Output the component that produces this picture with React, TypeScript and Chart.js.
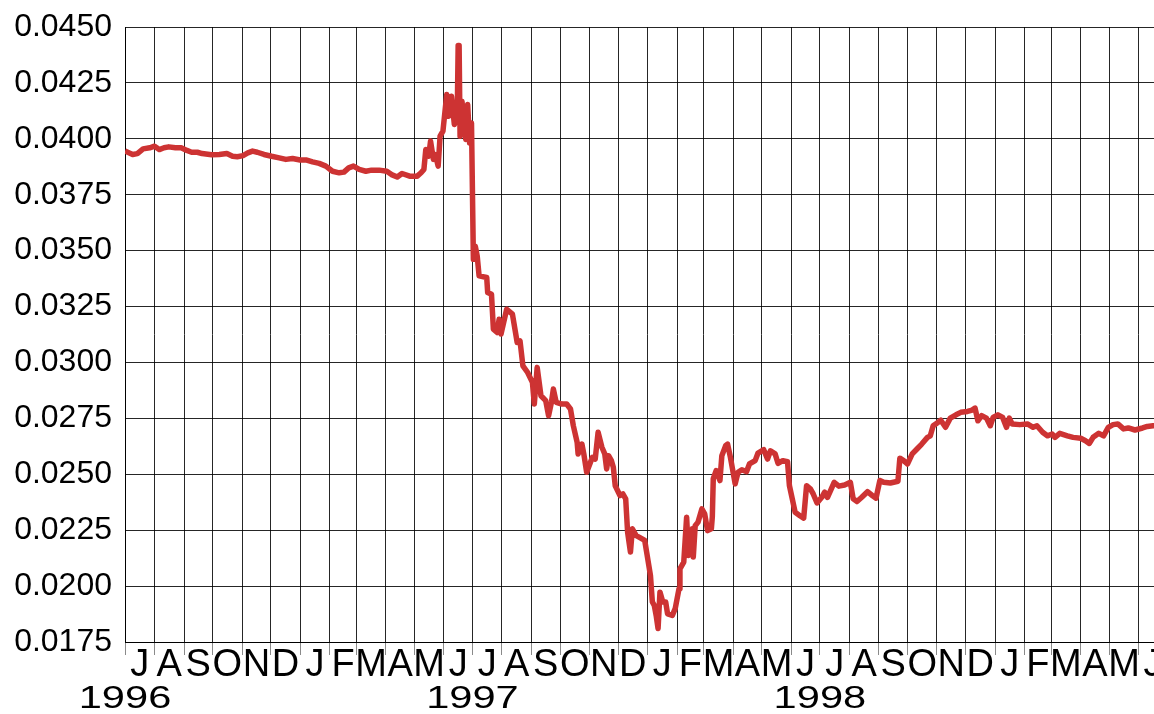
import React, { useEffect, useRef } from "react";
import { Chart, registerables } from "chart.js";

Chart.register(...registerables);

// Daily observations, sampled where the series turns; one pair of arrays per calendar year.
const dates1996 = [
  "1996-07-01", "1996-07-09", "1996-07-14", "1996-07-20", "1996-07-27", "1996-08-01", "1996-08-06",
  "1996-08-11", "1996-08-16", "1996-08-23", "1996-08-29", "1996-09-04", "1996-09-09", "1996-09-15",
  "1996-09-20", "1996-09-30", "1996-10-08", "1996-10-16", "1996-10-22", "1996-10-27", "1996-11-02",
  "1996-11-07", "1996-11-12", "1996-11-17", "1996-11-24", "1996-12-02", "1996-12-10", "1996-12-17",
  "1996-12-24",
];
const rates1996 = [
  0.03945, 0.0393, 0.03934, 0.03955, 0.0396, 0.03967, 0.03952,
  0.0396, 0.03964, 0.0396, 0.0396, 0.03948, 0.0394, 0.0394,
  0.03934, 0.03929, 0.0393, 0.03934, 0.03922, 0.0392, 0.03925,
  0.03937, 0.03945, 0.0394, 0.0393, 0.03922, 0.03915, 0.03908,
  0.03912,
];

const dates1997 = [
  "1997-01-01", "1997-01-08", "1997-01-14", "1997-01-21", "1997-01-28", "1997-02-04", "1997-02-11",
  "1997-02-16", "1997-02-21", "1997-02-26", "1997-03-04", "1997-03-11", "1997-03-17", "1997-03-25",
  "1997-04-02", "1997-04-07", "1997-04-13", "1997-04-18", "1997-04-26", "1997-05-04", "1997-05-08",
  "1997-05-11", "1997-05-13", "1997-05-16", "1997-05-18", "1997-05-21", "1997-05-23", "1997-05-26",
  "1997-05-28", "1997-05-31", "1997-06-04", "1997-06-06", "1997-06-09", "1997-06-12", "1997-06-15",
  "1997-06-16", "1997-06-17", "1997-06-18", "1997-06-20", "1997-06-24", "1997-06-26", "1997-06-28",
  "1997-06-30", "1997-07-02", "1997-07-04", "1997-07-06", "1997-07-08", "1997-07-16", "1997-07-17",
  "1997-07-21", "1997-07-23", "1997-07-27", "1997-07-29", "1997-07-31", "1997-08-06", "1997-08-12",
  "1997-08-17", "1997-08-20", "1997-08-23", "1997-08-28", "1997-09-02", "1997-09-04", "1997-09-07",
  "1997-09-11", "1997-09-16", "1997-09-19", "1997-09-22", "1997-09-24", "1997-09-27", "1997-10-03",
  "1997-10-08", "1997-10-12", "1997-10-15", "1997-10-19", "1997-10-20", "1997-10-24", "1997-10-26",
  "1997-10-29", "1997-11-04", "1997-11-07", "1997-11-10", "1997-11-14", "1997-11-17", "1997-11-19",
  "1997-11-21", "1997-11-24", "1997-11-26", "1997-11-28", "1997-12-03", "1997-12-06", "1997-12-09",
  "1997-12-11", "1997-12-14", "1997-12-16", "1997-12-20", "1997-12-23", "1997-12-29", "1997-12-31",
];
const rates1997 = [
  0.03905, 0.03905, 0.03897, 0.0389, 0.03878, 0.03855, 0.03848,
  0.03851, 0.0387, 0.03878, 0.03863, 0.03855, 0.0386, 0.0386,
  0.03855, 0.0384, 0.03829, 0.03845, 0.03833, 0.03833, 0.03848,
  0.03863, 0.03952, 0.03922, 0.0399, 0.03908, 0.0393, 0.03878,
  0.04012, 0.04034, 0.04198, 0.04101, 0.0419, 0.04064, 0.041,
  0.04417, 0.04417, 0.04012, 0.04168, 0.03997, 0.04153, 0.03982,
  0.04071, 0.03461, 0.0352, 0.03476, 0.03387, 0.0338, 0.03313,
  0.03305, 0.03149, 0.03134, 0.03193, 0.03127, 0.03238, 0.03216,
  0.03089, 0.03096, 0.02985, 0.02955, 0.02911, 0.02814, 0.02978,
  0.02851, 0.02829, 0.02762, 0.02822, 0.02881, 0.02822, 0.02814,
  0.02814, 0.02792, 0.02717, 0.02643, 0.02591, 0.02635, 0.02591,
  0.02509, 0.02576, 0.02568, 0.02688, 0.02621, 0.02591, 0.02524,
  0.02583, 0.02561, 0.02531, 0.02449, 0.02405, 0.02412, 0.0239,
  0.02241, 0.02152, 0.02256, 0.02226, 0.02219, 0.02204, 0.02152,
];

const dates1998 = [
  "1998-01-04", "1998-01-06", "1998-01-08", "1998-01-10", "1998-01-12", "1998-01-14", "1998-01-17",
  "1998-01-20", "1998-01-22", "1998-01-27", "1998-01-30", "1998-02-03", "1998-02-04", "1998-02-08",
  "1998-02-11", "1998-02-13", "1998-02-17", "1998-02-18", "1998-02-20", "1998-02-23", "1998-02-27",
  "1998-03-02", "1998-03-05", "1998-03-09", "1998-03-10", "1998-03-11", "1998-03-14", "1998-03-18",
  "1998-03-20", "1998-03-24", "1998-03-26", "1998-03-29", "1998-04-03", "1998-04-06", "1998-04-10",
  "1998-04-15", "1998-04-18", "1998-04-24", "1998-04-27", "1998-05-03", "1998-05-07", "1998-05-10",
  "1998-05-15", "1998-05-18", "1998-05-23", "1998-05-28", "1998-05-30", "1998-06-02", "1998-06-05",
  "1998-06-10", "1998-06-14", "1998-06-17", "1998-06-21", "1998-06-24", "1998-06-28", "1998-07-03",
  "1998-07-06", "1998-07-09", "1998-07-13", "1998-07-16", "1998-07-21", "1998-07-27", "1998-08-02",
  "1998-08-05", "1998-08-09", "1998-08-14", "1998-08-20", "1998-08-25", "1998-08-29", "1998-09-02",
  "1998-09-06", "1998-09-13", "1998-09-21", "1998-09-23", "1998-09-27", "1998-10-01", "1998-10-06",
  "1998-10-11", "1998-10-16", "1998-10-22", "1998-10-25", "1998-10-28", "1998-11-02", "1998-11-05",
  "1998-11-10", "1998-11-15", "1998-11-21", "1998-11-26", "1998-12-03", "1998-12-08", "1998-12-11",
  "1998-12-14", "1998-12-18", "1998-12-23", "1998-12-27", "1998-12-30",
];
const rates1998 = [
  0.02048, 0.01929, 0.01914, 0.01869, 0.0181, 0.01973, 0.01929,
  0.01929, 0.01876, 0.01869, 0.01899, 0.01988, 0.02077, 0.02107,
  0.02308, 0.02137, 0.02256, 0.0213, 0.0227, 0.02286, 0.02345,
  0.02323, 0.02248, 0.02256, 0.0231, 0.0248, 0.02516, 0.02472,
  0.02583, 0.02628, 0.02635, 0.02576, 0.02457, 0.02509, 0.0252,
  0.02512, 0.02546, 0.02561, 0.02595, 0.0261, 0.02568, 0.02605,
  0.02591, 0.02549, 0.02561, 0.02556, 0.02449, 0.0239, 0.0233,
  0.02315, 0.02304, 0.02449, 0.02435, 0.02412, 0.02372, 0.02397,
  0.0242, 0.02397, 0.02435, 0.02464, 0.02447, 0.02452, 0.02464,
  0.0239, 0.02378, 0.02397, 0.02422, 0.02405, 0.02393, 0.02472,
  0.02464, 0.02461, 0.02469, 0.02572, 0.02561, 0.02546, 0.02591,
  0.02613, 0.02635, 0.02665, 0.02672, 0.02717, 0.02732, 0.02742,
  0.0271, 0.02751, 0.02766, 0.02777, 0.02781, 0.02787, 0.02796,
  0.02739, 0.02762, 0.02751, 0.02717, 0.02754,
];

const dates1999 = [
  "1999-01-04", "1999-01-09", "1999-01-13", "1999-01-16", "1999-01-19", "1999-01-27", "1999-02-04",
  "1999-02-10", "1999-02-14", "1999-02-20", "1999-02-25", "1999-03-02", "1999-03-05", "1999-03-10",
  "1999-03-18", "1999-03-24", "1999-04-01", "1999-04-06", "1999-04-10", "1999-04-14", "1999-04-20",
  "1999-04-25", "1999-04-30", "1999-05-05", "1999-05-10", "1999-05-16", "1999-05-21", "1999-05-28",
  "1999-06-05", "1999-06-10", "1999-06-16", "1999-06-17",
];
const rates1999 = [
  0.02766, 0.02754, 0.0271, 0.02751, 0.02725, 0.02722, 0.02725,
  0.0271, 0.02717, 0.02688, 0.02672, 0.0268, 0.02665, 0.02683,
  0.02672, 0.02665, 0.02661, 0.0265, 0.02638, 0.02665, 0.02683,
  0.02672, 0.0271, 0.02722, 0.02725, 0.02703, 0.02707, 0.02698,
  0.02707, 0.02714, 0.02717, 0.02717,
];

// Axis ranges and tick labels
const X_START = "1996-07-01";
const X_END = "1999-06-17";
const Y_MIN = 0.0175;
const Y_MAX = 0.045;
const Y_STEP = 0.0025;
const MONTH_INITIALS = ["J", "F", "M", "A", "M", "J", "J", "A", "S", "O", "N", "D"];
const YEAR_LABELS = ["1996", "1997", "1998", "1999"];

const FONT_FAMILY = '"Liberation Sans", Arial, Helvetica, sans-serif';
const LINE_COLOR = "#cd3333";

const toTime = (s: string): number => {
  const [y, m, d] = s.split("-").map(Number);
  return Date.UTC(y, m - 1, d);
};

const allDates = [...dates1996, ...dates1997, ...dates1998, ...dates1999];
const allRates = [...rates1996, ...rates1997, ...rates1998, ...rates1999];

// Month boundaries from the first month of the range up to (and one past) the end.
function monthStarts(minT: number, maxT: number): number[] {
  const out: number[] = [];
  const d0 = new Date(minT);
  let y = d0.getUTCFullYear();
  let m = d0.getUTCMonth();
  for (;;) {
    const t = Date.UTC(y, m, 1);
    out.push(t);
    if (t > maxT) break;
    m += 1;
    if (m > 11) {
      m = 0;
      y += 1;
    }
  }
  return out;
}

// Draws the month initials between the month gridlines and the year under 1 July.
const calendarLabels = {
  id: "calendarLabels",
  afterDraw(chart: any) {
    const xs = chart.scales.x;
    const ctx: CanvasRenderingContext2D = chart.ctx;
    const starts = monthStarts(xs.min, xs.max);
    ctx.save();
    ctx.fillStyle = "#000";
    ctx.textAlign = "center";
    ctx.textBaseline = "alphabetic";
    ctx.font = `38px ${FONT_FAMILY}`;
    const base = chart.chartArea.bottom;
    for (let i = 0; i < starts.length - 1; i++) {
      if (starts[i] > xs.max) break;
      const a = xs.getPixelForValue(starts[i]);
      const b = xs.getPixelForValue(starts[i + 1]);
      const month = new Date(starts[i]).getUTCMonth();
      ctx.fillText(MONTH_INITIALS[month], (a + b) / 2, base + 34);
    }
    ctx.font = `32px ${FONT_FAMILY}`;
    for (const yl of YEAR_LABELS) {
      const t = Date.UTC(Number(yl), 6, 1);
      if (t < xs.min || t > xs.max) continue;
      const px = xs.getPixelForValue(t);
      ctx.save();
      ctx.translate(px, base + 66);
      ctx.scale(1.3, 1);
      ctx.fillText(yl, 0, 0);
      ctx.restore();
    }
    ctx.restore();
  },
};

export default function App() {
  const canvasRef = useRef<HTMLCanvasElement | null>(null);

  useEffect(() => {
    if (!canvasRef.current) return;
    const points = allDates.map((d, i) => ({ x: toTime(d), y: allRates[i] }));
    const chart = new Chart(canvasRef.current, {
      type: "line",
      data: {
        datasets: [
          {
            data: points,
            borderColor: LINE_COLOR,
            borderWidth: 5.5,
            borderJoinStyle: "round",
            borderCapStyle: "butt",
            pointRadius: 0,
            tension: 0,
            fill: false,
          },
        ],
      },
      options: {
        animation: false,
        responsive: false,
        maintainAspectRatio: false,
        layout: { padding: { top: 27, right: 0, left: 0, bottom: 0 } },
        plugins: {
          legend: { display: false },
          tooltip: { enabled: false },
        },
        scales: {
          x: {
            type: "linear",
            min: toTime(X_START),
            max: toTime(X_END),
            afterBuildTicks: (scale: any) => {
              scale.ticks = monthStarts(scale.min, scale.max)
                .filter((t) => t <= scale.max)
                .map((t) => ({ value: t }));
            },
            afterFit: (scale: any) => {
              scale.height = 72;
              scale.paddingLeft = 0;
              scale.paddingRight = 0;
            },
            ticks: { display: false, autoSkip: false, maxRotation: 0 },
            grid: {
              color: "rgba(0,0,0,0.85)",
              lineWidth: 1,
              drawTicks: true,
              tickLength: 13,
              tickColor: "#8a8a8a",
            },
            border: { display: true, color: "#000", width: 1 },
          },
          y: {
            type: "linear",
            min: Y_MIN,
            max: Y_MAX,
            afterFit: (scale: any) => {
              scale.width = 125;
              scale.paddingTop = 0;
              scale.paddingBottom = 0;
            },
            ticks: {
              stepSize: Y_STEP,
              color: "#000",
              padding: 13,
              font: { family: FONT_FAMILY, size: 32 },
              callback: (v: any) => Number(v).toFixed(4),
            },
            grid: { color: "rgba(0,0,0,0.85)", lineWidth: 1, drawTicks: false },
            border: { display: true, color: "#000", width: 1 },
          },
        },
      },
      plugins: [calendarLabels],
    });
    return () => chart.destroy();
  }, []);

  return (
    <div style={{ position: "fixed", left: 0, top: 0, width: 1154, height: 714, background: "#fff" }}>
      <canvas ref={canvasRef} width={1154} height={714} style={{ display: "block" }} />
    </div>
  );
}
